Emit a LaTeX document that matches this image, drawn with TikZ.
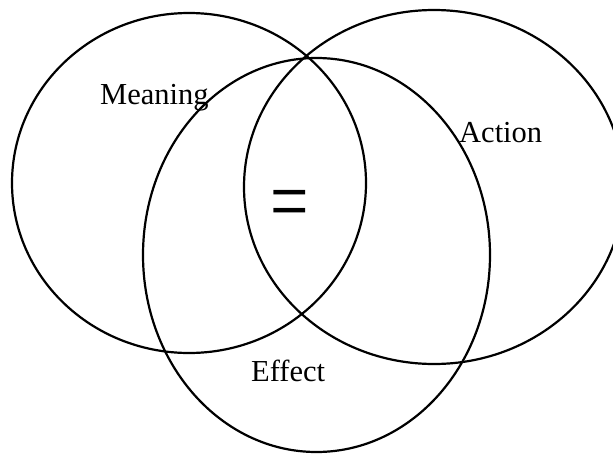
\documentclass[tikz,border=0pt]{standalone}
\usepackage{fontspec}
\setmainfont{Liberation Serif}
\begin{document}
\begin{tikzpicture}[x=1pt,y=-1pt,
  venn/.style={draw=black, line width=2.2pt},
  lbl/.style={font=\fontsize{30.5}{36}\selectfont, inner sep=0pt, anchor=base west},
  eqlbl/.style={font=\fontsize{62}{62}\selectfont, inner sep=0pt}]
\useasboundingbox (0,0) rectangle (613,453);
\begin{scope}
\clip (0,0) rectangle (613,453);
\draw[venn] (189,183) ellipse [x radius=177pt, y radius=170pt];
\draw[venn] (434,187) ellipse [x radius=190pt, y radius=177pt];
\draw[venn] (316.5,255) ellipse [x radius=173.5pt, y radius=197pt];
\end{scope}
\node[lbl] (meaning) at (100,104) {Meaning};
\node[lbl] (action) at (459,142) {Action};
\node[lbl] (effect) at (251,381) {Effect};
\node[eqlbl] (eq) at (290,211) {\scalebox{1.1}[1.45]{=}};
\end{tikzpicture}
\end{document}
